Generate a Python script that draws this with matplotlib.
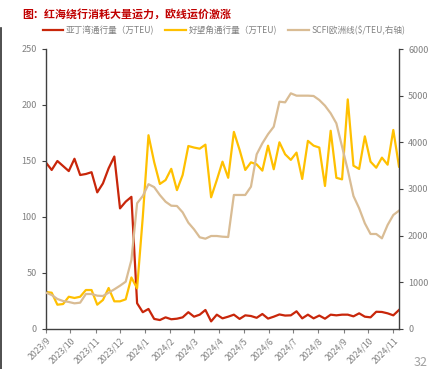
import matplotlib
matplotlib.use("Agg")
import matplotlib.pyplot as plt
import matplotlib.dates as mdates
import pandas as pd
import numpy as np

plt.rcParams['font.family'] = ['Noto Sans CJK SC', 'DejaVu Sans']

dates = pd.date_range("2023-09-01", periods=63, freq="7D")

aden = [148.5, 142, 150, 145.5, 141, 152, 137.5, 138.4, 140, 122, 130, 143.5, 154,
        107.7, 113.7, 118, 23, 15, 17.9, 9, 8, 10.4, 8.7, 9.2, 10.4, 15, 11, 12.8,
        17, 6.8, 12.8, 9.5, 11, 12.8, 9, 12.2, 11.6, 10, 13.4, 9.3, 11, 13, 12,
        12.2, 15.8, 9.5, 12.8, 9.5, 12, 9.2, 12.8, 12.2, 12.8, 12.8, 11.3, 14, 11,
        10.4, 15.4, 15.2, 14, 12.2, 17]

cape = [33, 32.4, 21.7, 22.3, 28.8, 27.7, 28.8, 34.8, 34.8, 21.7, 25.9, 36.6, 24.7,
        24.7, 26.5, 46, 36.3, 100, 173, 149, 129.5, 133, 143, 124, 137.5, 163.4, 162,
        161, 164.6, 117.6, 133, 149.4, 135, 176, 160, 142, 148.8, 147, 141.4, 163.7,
        142.6, 166.7, 156, 151, 157.5, 134, 168, 163.7, 162, 127.7, 177, 135, 133.6,
        205, 145.8, 142.9, 172, 149.4, 144, 153, 146.7, 177.7, 145]

scfi = [778, 729, 643, 600, 579, 550, 564, 750, 750, 714, 707, 778, 850, 928, 1014,
        1479, 2694, 2850, 3103, 3040, 2870, 2728, 2642, 2636, 2500, 2278, 2136, 1965,
        1935, 1993, 1993, 1978, 1971, 2872, 2872, 2872, 3050, 3743, 3979, 4175, 4335,
        4871, 4857, 5050, 5000, 5000, 5000, 4993, 4907, 4785, 4622, 4407, 3907, 3407,
        2850, 2587, 2265, 2036, 2036, 1943, 2229, 2443, 2536]

legend_labels = ["亚丁湾通行量（万TEU)", "好望角通行量（万TEU)", "SCFI欧洲线($/TEU,右轴)"]
title = "图：红海绕行消耗大量运力，欧线运价激涨"

c_red = "#C8260A"
c_yel = "#FFC000"
c_tan = "#D9BC94"
gray = "#808080"

fig = plt.figure(figsize=(4.29, 3.69), dpi=100)
ax = fig.add_axes([46/429, 1-329/369, (399-46)/429, (329-49)/369])
ax2 = ax.twinx()

l1, = ax.plot(dates, aden, color=c_red, lw=1.6, label=legend_labels[0])
l2, = ax.plot(dates, cape, color=c_yel, lw=1.6, label=legend_labels[1])
l3, = ax2.plot(dates, scfi, color=c_tan, lw=1.6, label=legend_labels[2])

ax.set_ylim(0, 250)
ax.set_yticks(np.arange(0, 251, 50))
ax2.set_ylim(0, 6000)
ax2.set_yticks(np.arange(0, 6001, 1000))
ax.set_xlim(pd.Timestamp("2023-09-01"), pd.Timestamp("2024-11-08"))

ax.xaxis.set_major_locator(mdates.MonthLocator())
ax.xaxis.set_major_formatter(mdates.DateFormatter("%Y/%-m"))
for lab in ax.get_xticklabels():
    lab.set_rotation(45)
    lab.set_ha("right")
    lab.set_rotation_mode("anchor")

for a in (ax, ax2):
    a.spines['top'].set_visible(False)
    for s in ('left', 'right', 'bottom'):
        a.spines[s].set_color("#404040")
        a.spines[s].set_linewidth(1.0)
    a.tick_params(axis='both', colors="#404040", labelcolor=gray, labelsize=6.5,
                  length=3, width=0.8)
ax.spines['right'].set_visible(False)
ax2.spines['left'].set_visible(False)
ax2.spines['bottom'].set_visible(False)
ax.tick_params(axis='x', colors=gray, labelcolor=gray, labelsize=6.3, pad=2)

fig.text(22/429, 1-14/369, title, color="#C00000", fontsize=7.9, fontweight='bold',
         va='center', ha='left')

fig.legend(handles=[l1, l2, l3], labels=legend_labels, loc='center',
           bbox_to_anchor=(0.522, 1-30/369), ncol=3, frameon=False, fontsize=6.2,
           labelcolor=gray, handlelength=2.4, handletextpad=0.3, columnspacing=1.3)

# page decorations
fig.add_artist(plt.Line2D([1/429, 1/429], [0, 1-28/369], color="#303030", lw=1.2,
                          transform=fig.transFigure))
fig.text(414/429, 1-362/369, "32", color="#A0A0A0", fontsize=9, va='center', ha='left')

fig.savefig("out.png", dpi=100)
